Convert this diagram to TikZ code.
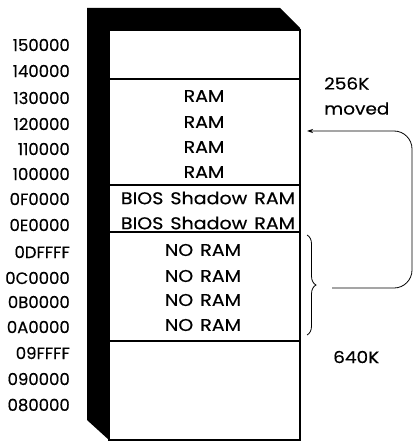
\documentclass[tikz,border=0pt]{standalone}
\usepackage{fontspec}
\setmainfont{Poppins}[FakeBold=0.4]
\newfontfamily\widefont{Poppins}[FakeStretch=1.12,FakeBold=0.4]
\usetikzlibrary{positioning, arrows.meta, decorations.pathreplacing}

\begin{document}
\begin{tikzpicture}[x=1pt,y=-1pt]
    \tikzset{addr/.style={anchor=east,inner sep=0pt,font=\fontsize{16.5}{18}\selectfont}, cell/.style={inner sep=0pt,font=\widefont\fontsize{17}{18}\selectfont}, region/.style={draw,line width=1.6pt,fill=white,minimum width=191pt,inner sep=0pt}, note/.style={anchor=west,align=left,inner sep=0pt,font=\widefont\fontsize{16.5}{25}\selectfont}, arr/.style={-{Stealth[length=6pt,width=4pt]},line width=0.8pt,rounded corners=18pt}, brc/.style={decorate,decoration={brace,amplitude=9pt},line width=0.8pt}}
    \useasboundingbox (0,0) rectangle (419,443);
    % black back of the memory block
    \fill (87,8) -- (280,8) -- (300,28) -- (300,440) -- (109,440) -- (87,420) -- cycle;
    \node[region,minimum height=49pt] (free) at (204.5,54.5) {};
    \node[region,minimum height=106pt] (ram) at (204.5,132) {};
    \node[region,minimum height=47pt] (bios) at (204.5,208.5) {};
    \node[region,minimum height=109pt] (noram) at (204.5,286.5) {};
    \node[region,minimum height=99pt] (low) at (204.5,390.5) {};
    % addresses
    \node[addr] (a150) at (70,45) {150000};
    \node[addr] (a140) at (70,71) {140000};
    \node[addr] (a130) at (70,98) {130000};
    \node[addr] (a120) at (70,124) {120000};
    \node[addr] (a110) at (70,149) {110000};
    \node[addr] (a100) at (70,174) {100000};
    \node[addr] (a0F) at (70,199) {0F0000};
    \node[addr] (a0E) at (70,225) {0E0000};
    \node[addr] (a0DF) at (70,252) {0DFFFF};
    \node[addr] (a0C) at (70,278) {0C0000};
    \node[addr] (a0B) at (70,302) {0B0000};
    \node[addr] (a0A) at (70,327) {0A0000};
    \node[addr] (a09F) at (70,353) {09FFFF};
    \node[addr] (a09) at (70,379) {090000};
    \node[addr] (a08) at (70,405) {080000};
    % contents
    \node[cell] (r1) at (204,96) {RAM};
    \node[cell] (r2) at (204,122) {RAM};
    \node[cell] (r3) at (204,147) {RAM};
    \node[cell] (r4) at (204,172) {RAM};
    \node[cell] (b1) at (208,198) {BIOS\hspace{7pt}Shadow\hspace{7pt}RAM};
    \node[cell] (b2) at (208,223) {BIOS\hspace{7pt}Shadow\hspace{7pt}RAM};
    \node[cell] (n1) at (203,250) {NO\hspace{7pt}RAM};
    \node[cell] (n2) at (203,276) {NO\hspace{7pt}RAM};
    \node[cell] (n3) at (203,300) {NO\hspace{7pt}RAM};
    \node[cell] (n4) at (203,325) {NO\hspace{7pt}RAM};
    \node[note] (moved) at (324,96) {256K\\moved};
    \node[note] (k640) at (333,357) {640K};
    % brace and move arrow
    \coordinate (braceTop) at (307,235);
    \coordinate (braceBot) at (307,335);
    \coordinate (tail) at (332,288);
    \coordinate (head) at (307,131);
    \draw[brc] (braceTop) -- (braceBot);
    \draw[arr] (tail) -| (412,131) -- (head);
\end{tikzpicture}
\end{document}
